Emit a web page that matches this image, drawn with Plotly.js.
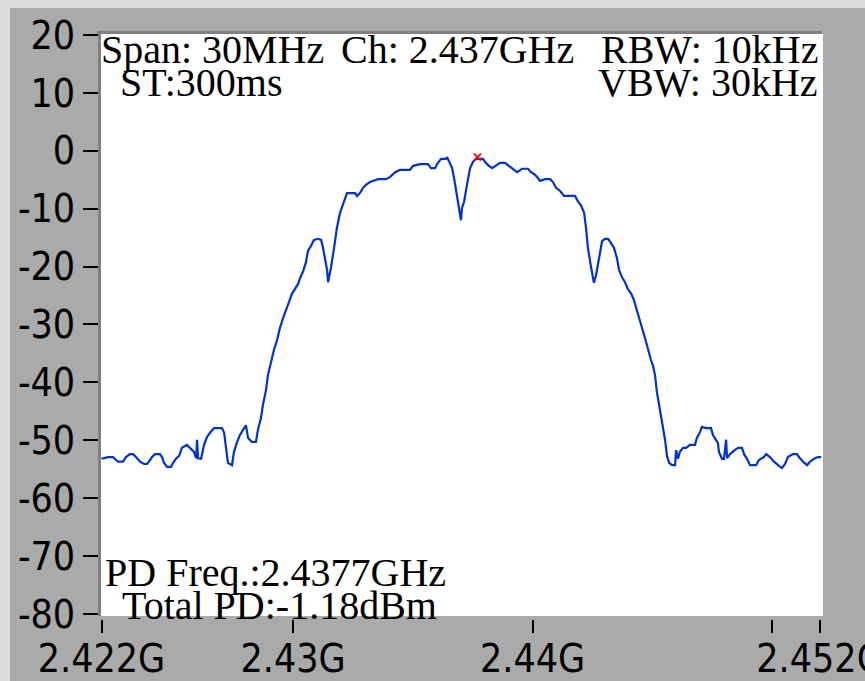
<!DOCTYPE html>
<html><head><meta charset="utf-8">
<script src="https://cdn.plot.ly/plotly-3.0.1.min.js"></script>
<style>
html,body{margin:0;padding:0;background:#dcdcdc;overflow:hidden;width:865px;height:681px;}
#chart{position:absolute;left:10px;top:8px;width:855px;height:673px;}
</style></head><body><div id="chart"></div>
<script>
// Spectrum trace: frequency (MHz) and level (dBm)
const freqMHz = [
 2422.00,2422.27,2422.48,2422.56,2422.69,2422.90,2423.02,2423.19,2423.32,2423.44,
 2423.61,2423.78,2423.90,2423.98,2424.11,2424.23,2424.44,2424.53,2424.61,2424.74,
 2424.90,2424.99,2425.11,2425.24,2425.36,2425.57,2425.70,2425.86,2425.95,2425.99,
 2426.03,2426.16,2426.28,2426.41,2426.53,2426.70,2427.03,2427.12,2427.20,2427.28,
 2427.45,2427.53,2427.66,2427.78,2427.91,2428.03,2428.12,2428.28,2428.45,2428.53,
 2428.66,2428.74,2428.87,2428.95,2429.08,2429.20,2429.33,2429.45,2429.58,2429.70,
 2429.83,2429.95,2430.08,2430.21,2430.29,2430.41,2430.54,2430.62,2430.75,2430.87,
 2431.04,2431.17,2431.25,2431.33,2431.42,2431.46,2431.50,2431.58,2431.71,2431.83,
 2431.96,2432.08,2432.17,2432.25,2432.59,2432.67,2432.79,2432.92,2433.04,2433.21,
 2433.55,2433.88,2434.05,2434.26,2434.46,2434.67,2434.88,2435.01,2435.30,2435.63,
 2435.76,2435.93,2436.01,2436.18,2436.38,2436.43,2436.55,2436.64,2436.72,2436.80,
 2436.89,2436.97,2437.01,2437.05,2437.14,2437.22,2437.30,2437.39,2437.51,2437.64,
 2437.80,2437.93,2438.01,2438.14,2438.31,2438.47,2438.64,2438.85,2438.97,2439.14,
 2439.35,2439.56,2439.81,2439.93,2440.06,2440.18,2440.31,2440.52,2440.73,2440.85,
 2440.98,2441.14,2441.31,2441.77,2441.90,2442.02,2442.15,2442.23,2442.31,2442.44,
 2442.52,2442.56,2442.65,2442.73,2442.81,2442.90,2443.02,2443.15,2443.27,2443.40,
 2443.52,2443.61,2443.73,2443.86,2443.98,2444.11,2444.23,2444.32,2444.44,2444.57,
 2444.69,2444.82,2444.94,2445.03,2445.11,2445.19,2445.28,2445.40,2445.53,2445.61,
 2445.70,2445.82,2445.95,2445.99,2446.07,2446.15,2446.28,2446.41,2446.57,2446.78,
 2446.86,2446.99,2447.07,2447.24,2447.45,2447.53,2447.66,2447.74,2447.78,2447.91,
 2447.99,2448.08,2448.12,2448.24,2448.41,2448.58,2448.74,2448.83,2448.95,2449.08,
 2449.33,2449.45,2449.66,2449.75,2449.91,2450.08,2450.25,2450.41,2450.54,2450.66,
 2450.87,2451.04,2451.12,2451.29,2451.46,2451.58,2451.75,2451.92,2452.05
];
const levelDbm = [
 -53.2,-52.9,-52.9,-53.2,-53.7,-53.7,-52.9,-52.4,-52.4,-52.9,
 -53.7,-54.1,-54.1,-53.7,-52.9,-52.4,-52.4,-52.9,-53.9,-54.6,
 -54.6,-53.9,-53.2,-52.7,-51.3,-50.8,-51.3,-52.0,-53.1,-49.9,
 -53.1,-53.2,-50.8,-49.4,-48.7,-47.9,-47.9,-48.7,-51.3,-53.9,
 -54.3,-52.0,-50.3,-49.1,-48.2,-47.4,-49.6,-50.3,-50.3,-48.2,
 -46.1,-43.9,-41.3,-38.7,-36.5,-34.4,-32.7,-30.6,-28.9,-27.7,
 -26.1,-24.7,-23.9,-23.0,-22.0,-20.9,-19.2,-17.3,-16.4,-15.4,
 -15.2,-15.4,-16.8,-18.9,-20.6,-22.7,-22.0,-20.2,-16.8,-13.3,
 -10.7,-9.4,-8.2,-7.3,-7.3,-7.8,-7.3,-6.4,-5.9,-5.4,
 -4.9,-4.9,-4.5,-3.7,-3.3,-3.3,-3.3,-2.6,-2.3,-2.3,
 -3.0,-3.0,-2.3,-1.4,-1.4,-1.1,-2.1,-3.0,-4.7,-6.8,
 -8.5,-10.6,-12.0,-9.9,-8.8,-6.8,-4.7,-3.0,-1.9,-1.4,
 -1.4,-1.4,-1.9,-2.5,-3.0,-2.5,-2.1,-2.1,-2.5,-3.0,
 -3.7,-3.1,-3.1,-3.7,-4.0,-4.5,-5.2,-4.9,-4.9,-5.4,
 -6.4,-6.9,-7.8,-7.8,-8.8,-9.4,-10.7,-13.3,-16.8,-20.1,
 -22.0,-22.8,-21.5,-19.7,-17.3,-15.6,-15.2,-15.2,-15.9,-16.8,
 -18.5,-20.6,-21.8,-22.7,-23.9,-24.6,-25.8,-27.2,-28.7,-30.6,
 -32.3,-34.4,-36.1,-37.2,-38.7,-41.7,-43.9,-47.0,-49.9,-52.7,
 -53.9,-54.3,-54.3,-51.7,-53.2,-52.0,-51.3,-51.3,-50.8,-50.8,
 -49.6,-48.6,-47.7,-47.9,-47.9,-49.1,-49.9,-50.5,-52.0,-53.2,
 -53.2,-49.9,-53.1,-52.4,-51.8,-51.3,-51.3,-52.4,-53.2,-54.3,
 -54.3,-53.4,-52.9,-52.4,-52.9,-53.7,-54.3,-54.8,-54.1,-52.9,
 -52.4,-52.4,-52.9,-53.7,-54.3,-53.7,-53.2,-52.9,-52.9
];
// Peak marker
const peakFreqMHz = [2437.7];
const peakLevel = [-1.1];
// Axes
const xTickVals = [2422, 2430, 2440, 2450, 2452];
const xTickText = ['2.422G', '2.43G', '2.44G', '', '2.452G'];
const yTickVals = [-80, -70, -60, -50, -40, -30, -20, -10, 0, 10, 20];
const yTickText = ['-80', '-70', '-60', '-50', '-40', '-30', '-20', '-10', '0', '10', '20'];
// Readout texts
const infoTop1 = ['Span: 30MHz', 'Ch: 2.437GHz', 'RBW: 10kHz'];
const infoTop2 = ['ST:300ms', 'VBW: 30kHz'];
const infoBottom = ['PD Freq.:2.4377GHz', 'Total PD:-1.18dBm'];

// page-pixel helpers for text placement (plot area spans x 101..823, y 34..616 on page)
const PL = 101, PR = 823, PT = 34, PB = 616;
const px = x => (x - PL) / (PR - PL);
const py = y => (PB - y) / (PB - PT);

const serif = {family: 'Liberation Serif, Times New Roman, serif', size: 40, color: '#000'};
function ann(text, x, y, xanchor) {
  return {text: text, xref: 'paper', yref: 'paper', x: px(x), y: py(y),
    xanchor: xanchor, yanchor: 'middle', showarrow: false, font: serif, borderpad: 0};
}

const traces = [
  {x: freqMHz, y: levelDbm, type: 'scatter', mode: 'lines',
   line: {color: '#0033cc', width: 2.2}, hoverinfo: 'skip'},
  {x: peakFreqMHz, y: peakLevel, type: 'scatter', mode: 'markers',
   marker: {symbol: 'x-thin', size: 7, line: {color: '#ff0000', width: 2}, color: '#ff0000'}, hoverinfo: 'skip'}
];

const tickFont = {family: 'Liberation Sans Narrow, Arial Narrow, DejaVu Sans Condensed, sans-serif', size: 39, color: '#000'};

const layout = {
  width: 855, height: 673,
  margin: {l: 91, r: 42, t: 26, b: 65, pad: 0},
  paper_bgcolor: '#aaaaaa', plot_bgcolor: '#ffffff',
  showlegend: false,
  xaxis: {
    range: [2421.979, 2452.125], tickvals: xTickVals, ticktext: xTickText,
    ticks: 'outside', ticklen: 13, tickwidth: 2, tickcolor: '#000',
    showline: true, linecolor: '#aaaaaa', linewidth: 4,
    showgrid: false, zeroline: false, tickfont: tickFont, ticklabeloverflow: 'allow',
    ticklabelstandoff: -8,
    fixedrange: true
  },
  yaxis: {
    range: [-80.35, 20.17], tickvals: yTickVals, ticktext: yTickText,
    ticks: 'outside', ticklen: 15, tickwidth: 2, tickcolor: '#000',
    showline: true, linecolor: '#808080', linewidth: 3,
    showgrid: false, zeroline: false, tickfont: tickFont, ticklabeloverflow: 'allow',
    fixedrange: true
  },
  shapes: [
    {type: 'line', xref: 'paper', yref: 'paper', x0: px(97), x1: px(822), y0: py(32.5), y1: py(32.5),
     line: {color: '#808080', width: 3}}
  ],
  annotations: [
    ann(infoTop1[0], 100, 49, 'left'),
    ann(infoTop1[1], 340, 49, 'left'),
    ann(infoTop1[2], 819, 49, 'right'),
    ann(infoTop2[0], 119, 82, 'left'),
    ann(infoTop2[1], 819, 82, 'right'),
    ann(infoBottom[0], 104, 572, 'left'),
    ann(infoBottom[1], 121, 605, 'left')
  ]
};

Plotly.newPlot('chart', traces, layout, {displayModeBar: false, staticPlot: true});
</script></body></html>
